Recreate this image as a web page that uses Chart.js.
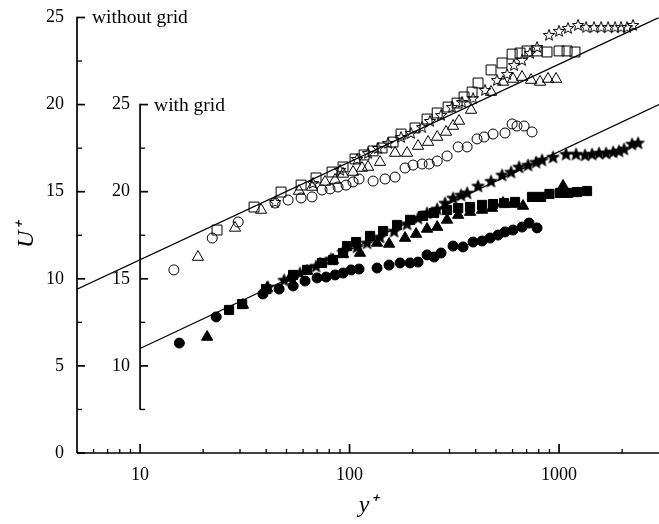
<!DOCTYPE html>
<html>
<head>
<meta charset="utf-8">
<title>U+ vs y+</title>
<script src="https://cdn.jsdelivr.net/npm/chart.js@4.4.1/dist/chart.umd.min.js"></script>
<style>
  html, body { margin: 0; padding: 0; background: #fff; overflow: hidden; }
  #wrap { position: relative; width: 659px; height: 524px; }
  #profileChart { display: block; }
</style>
</head>
<body>
<div id="wrap"><canvas id="profileChart"></canvas></div>
<script>
// ---- tick values ----
const X_MAJOR = [10, 100, 1000];
const X_MINOR = [6, 7, 8, 9, 20, 30, 40, 50, 60, 70, 80, 90, 200, 300, 400, 500, 600, 700, 800, 900, 2000];
const Y_MAJOR = [0, 5, 10, 15, 20, 25];
const Y_MINOR = [2.5, 7.5, 12.5, 17.5, 22.5];
const Y2_MAJOR = [10, 15, 20, 25];
const Y2_MINOR = [7.5, 12.5, 17.5, 22.5];

// ---- without grid (left axis) ----
const NG_CIRCLE_X = [14.5, 22.1, 29.4, 44.1, 50.9, 58.7, 66.2, 73.9, 80.7, 88.1, 96.2, 103.9, 111, 129.5, 147.7, 164.9, 184, 201, 222, 240, 262, 292, 330, 364, 406, 439, 484, 552, 597, 630, 681, 743];
const NG_CIRCLE_Y = [10.51, 12.34, 13.26, 14.35, 14.52, 14.64, 14.70, 15.10, 15.16, 15.27, 15.38, 15.56, 15.73, 15.61, 15.73, 15.84, 16.36, 16.53, 16.59, 16.59, 16.76, 17.05, 17.57, 17.57, 18.03, 18.14, 18.31, 18.37, 18.89, 18.77, 18.77, 18.43];

const NG_TRI_X = [18.9, 28.4, 37.8, 57.4, 66.2, 76.4, 85.3, 93.1, 103.9, 114.7, 122.6, 139.8, 164.9, 188.1, 212.3, 237, 262, 288.8, 311.9, 333.2, 380.2, 473.6, 540.3, 603.1, 665.9, 735.1, 811.5, 886.3, 967.6];
const NG_TRI_Y = [11.25, 12.92, 13.95, 15.04, 15.27, 15.56, 15.67, 16.02, 16.13, 16.36, 16.42, 16.70, 17.22, 17.22, 17.62, 17.85, 18.14, 18.43, 18.77, 19.06, 19.69, 20.72, 21.30, 21.47, 21.58, 21.41, 21.30, 21.47, 21.47];

const NG_SQ_X = [23.3, 35.0, 47.1, 58.7, 69.2, 82.5, 93.1, 106.2, 117.3, 129.5, 142.9, 161.3, 176.1, 205.4, 234.4, 262, 295.3, 326.1, 352.1, 384.4, 410.6, 473.6, 534.4, 597, 651.4, 703.6, 785.2, 876.3, 1000, 1092, 1192];
const NG_SQ_Y = [12.80, 14.12, 14.98, 15.38, 15.79, 16.13, 16.42, 16.88, 17.11, 17.34, 17.51, 17.85, 18.31, 18.66, 19.17, 19.52, 19.86, 20.09, 20.44, 20.72, 21.24, 21.99, 22.39, 22.90, 22.96, 23.08, 23.08, 23.02, 23.08, 23.08, 23.02];

const NG_STAR_X = [44.1, 66.9, 90.1, 108.6, 122.6, 136.8, 152.7, 176.1, 196.6, 222, 242.2, 273.4, 308.5, 344.4, 388.6, 443.6, 505.9, 564.8, 609.9, 665.9, 727.1, 785.2, 895.8, 1000, 1104, 1232, 1346, 1469, 1587, 1714, 1851, 1977, 2111, 2255];
const NG_STAR_Y = [14.41, 15.50, 16.25, 16.88, 17.22, 17.51, 17.80, 18.14, 18.37, 18.71, 19.06, 19.40, 19.86, 20.15, 20.37, 20.84, 21.41, 21.76, 22.27, 22.56, 22.96, 23.31, 24.00, 24.23, 24.40, 24.57, 24.45, 24.45, 24.45, 24.45, 24.45, 24.45, 24.45, 24.57];

const NG_LINE_X = [5, 3000];
const NG_LINE_Y = [9.4, 25.0];

// ---- with grid (inner axis) ----
const WG_CIRCLE_X = [15.4, 23.1, 38.6, 46.1, 53.8, 61.3, 70.0, 77.3, 85.3, 93.1, 101.7, 111, 135.3, 154.4, 174.2, 194.5, 212.3, 234.4, 253.2, 273.4, 311.9, 348.2, 388.6, 429.1, 468.4, 511.6, 552, 603.1, 665.9, 719.2, 785.2];
const WG_CIRCLE_Y = [11.31, 12.81, 14.13, 14.41, 14.59, 14.87, 15.05, 15.10, 15.22, 15.33, 15.51, 15.56, 15.62, 15.79, 15.91, 15.91, 15.96, 16.37, 16.25, 16.48, 16.88, 16.83, 17.11, 17.17, 17.34, 17.51, 17.69, 17.80, 17.97, 18.20, 17.92];

const WG_TRI_X = [20.9, 31.0, 40.4, 52.0, 62.7, 72.3, 83.4, 93.1, 112.2, 135.3, 154.4, 184, 207.7, 234.4, 262, 292, 330, 376, 429, 478.8, 540.3, 597, 673.2, 1045];
const WG_TRI_Y = [11.66, 13.50, 14.47, 15.05, 15.45, 15.85, 16.08, 16.42, 16.48, 17.06, 17.00, 17.34, 17.57, 17.86, 17.97, 18.38, 18.66, 18.83, 18.95, 19.06, 19.35, 19.29, 19.18, 20.33];

const WG_SQ_X = [26.6, 30.7, 40.0, 53.8, 62.7, 73.9, 83.4, 93.1, 97.3, 107.4, 125.3, 144.5, 168.6, 194.5, 224.3, 253.2, 292, 330, 376, 429, 484, 546.3, 616.6, 743, 820.5, 900, 1011, 1104, 1218, 1360];
const WG_SQ_Y = [13.21, 13.55, 14.41, 15.22, 15.51, 15.91, 16.08, 16.48, 16.88, 17.11, 17.46, 17.74, 18.09, 18.38, 18.61, 18.78, 18.95, 19.06, 19.12, 19.24, 19.29, 19.35, 19.41, 19.70, 19.70, 19.87, 19.93, 19.93, 19.98, 20.04];

const WG_STAR_X = [40.8, 48.7, 58.0, 69.2, 81.6, 93.1, 108.6, 121.2, 139.8, 163.1, 188.1, 212.3, 234.4, 262, 285.6, 311.9, 340.6, 364, 410.6, 473.6, 534.4, 590, 644.2, 711.2, 776.6, 829.6, 936.3, 1080, 1205, 1331, 1437, 1552, 1676, 1811, 1934, 2043, 2231, 2383];
const WG_STAR_Y = [14.53, 14.93, 15.33, 15.73, 16.14, 16.54, 16.83, 17.06, 17.40, 17.74, 18.15, 18.49, 18.78, 19.01, 19.35, 19.64, 19.81, 19.93, 20.33, 20.61, 20.96, 21.13, 21.42, 21.53, 21.70, 21.82, 21.99, 22.16, 22.16, 22.11, 22.16, 22.22, 22.22, 22.28, 22.34, 22.45, 22.74, 22.80];

const WG_LINE_X = [10, 3000];
const WG_LINE_Y = [11.0, 25.0];

const SERIF = "'Liberation Serif', 'Times New Roman', serif";

function pts(xs, ys) {
    return xs.map((x, i) => ({ x: x, y: ys[i] }));
}

// five-pointed star marker drawn on a small canvas
function makeStar(filled, size) {
    const c = document.createElement('canvas');
    c.width = size; c.height = size;
    const g = c.getContext('2d');
    const cx = size / 2, cy = size / 2 + 0.5;
    const ro = size / 2 - 1, ri = ro * 0.42;
    g.beginPath();
    for (let i = 0; i < 10; i++) {
        const r = i % 2 === 0 ? ro : ri;
        const a = -Math.PI / 2 + i * Math.PI / 5;
        const px = cx + r * Math.cos(a), py = cy + r * Math.sin(a);
        if (i === 0) g.moveTo(px, py); else g.lineTo(px, py);
    }
    g.closePath();
    g.lineWidth = 1;
    g.strokeStyle = '#000';
    if (filled) { g.fillStyle = '#000'; g.fill(); }
    g.stroke();
    return c;
}

const openStar = makeStar(false, 14);
const fullStar = makeStar(true, 15);

function markerSet(data, style, filled, radius, axis) {
    return {
        data: data,
        yAxisID: axis,
        pointStyle: style,
        pointRadius: radius,
        pointBorderWidth: 1,
        pointBorderColor: '#000',
        pointBackgroundColor: filled ? '#000' : 'rgba(0,0,0,0)',
        showLine: false
    };
}

function refLine(data, axis) {
    return {
        data: data,
        yAxisID: axis,
        showLine: true,
        borderColor: '#000',
        borderWidth: 1.3,
        pointRadius: 0,
        fill: false
    };
}

// keep the plot area fixed: no automatic label padding
function noPad(scale) {
    scale.paddingTop = 0;
    scale.paddingBottom = 0;
    scale.paddingLeft = 0;
    scale.paddingRight = 0;
}

// axis lines, inward tick marks, inner axis labels and captions
const axesPlugin = {
    id: 'axesPlugin',
    afterDraw(chart) {
        const { ctx, scales } = chart;
        const xs = scales.x, ys = scales.y, ys2 = scales.y2;
        ctx.save();
        ctx.strokeStyle = '#000';
        ctx.lineWidth = 1.7;
        ctx.lineCap = 'butt';

        const seg = (x1, y1, x2, y2) => {
            ctx.beginPath(); ctx.moveTo(x1, y1); ctx.lineTo(x2, y2); ctx.stroke();
        };

        // x axis
        const yb = ys.getPixelForValue(0);
        seg(xs.left, yb, xs.right, yb);
        X_MAJOR.forEach(v => { const p = xs.getPixelForValue(v); seg(p, yb, p, yb - 9); });
        ctx.lineWidth = 1.3;
        X_MINOR.forEach(v => { const p = xs.getPixelForValue(v); seg(p, yb, p, yb - 4); });

        // outer y axis
        ctx.lineWidth = 1.7;
        const xl = xs.left;
        seg(xl, yb, xl, ys.getPixelForValue(25) - 0.8);
        Y_MAJOR.forEach(v => { const p = ys.getPixelForValue(v); seg(xl, p, xl + 8, p); });
        ctx.lineWidth = 1.3;
        Y_MINOR.forEach(v => { const p = ys.getPixelForValue(v); seg(xl, p, xl + 5, p); });

        // inner y axis (with grid)
        ctx.lineWidth = 1.7;
        const xi = xs.getPixelForValue(10);
        seg(xi, ys2.getPixelForValue(7.5), xi, ys2.getPixelForValue(25) - 0.8);
        Y2_MAJOR.forEach(v => { const p = ys2.getPixelForValue(v); seg(xi, p, xi + 8, p); });
        ctx.lineWidth = 1.3;
        Y2_MINOR.forEach(v => { const p = ys2.getPixelForValue(v); seg(xi, p, xi + 5, p); });

        ctx.fillStyle = '#000';
        ctx.textBaseline = 'middle';

        // inner axis tick labels
        ctx.font = '18px ' + SERIF;
        ctx.textAlign = 'right';
        Y2_MAJOR.forEach(v => { ctx.fillText(String(v), xi - 10, ys2.getPixelForValue(v)); });

        // captions
        ctx.font = '19.5px ' + SERIF;
        ctx.textAlign = 'left';
        ctx.fillText('without grid', xl + 15, ys.getPixelForValue(25));
        ctx.fillText('with grid', xi + 14, ys2.getPixelForValue(25) + 1);
        ctx.restore();
    }
};

const ctx = document.getElementById('profileChart').getContext('2d');

new Chart(ctx, {
    type: 'scatter',
    data: {
        datasets: [
            refLine(pts(NG_LINE_X, NG_LINE_Y), 'y'),
            refLine(pts(WG_LINE_X, WG_LINE_Y), 'y2'),
            markerSet(pts(NG_CIRCLE_X, NG_CIRCLE_Y), 'circle', false, 5, 'y'),
            markerSet(pts(NG_TRI_X, NG_TRI_Y), 'triangle', false, 6.5, 'y'),
            markerSet(pts(NG_SQ_X, NG_SQ_Y), 'rect', false, 7, 'y'),
            markerSet(pts(NG_STAR_X, NG_STAR_Y), openStar, false, 7, 'y'),
            markerSet(pts(WG_CIRCLE_X, WG_CIRCLE_Y), 'circle', true, 5, 'y2'),
            markerSet(pts(WG_TRI_X, WG_TRI_Y), 'triangle', true, 6.5, 'y2'),
            markerSet(pts(WG_SQ_X, WG_SQ_Y), 'rect', true, 6.5, 'y2'),
            markerSet(pts(WG_STAR_X, WG_STAR_Y), fullStar, true, 7, 'y2')
        ]
    },
    options: {
        responsive: true,
        maintainAspectRatio: false,
        animation: false,
        events: [],
        layout: { autoPadding: false, padding: { top: 17.5, right: 0, bottom: 0, left: 0 } },
        plugins: {
            legend: { display: false },
            tooltip: { enabled: false }
        },
        scales: {
            x: {
                type: 'logarithmic',
                position: 'bottom',
                min: 5,
                max: 3000,
                grid: { display: false, drawTicks: false },
                border: { display: false },
                afterBuildTicks: (scale) => { scale.ticks = X_MAJOR.map(v => ({ value: v })); },
                afterFit: (scale) => { scale.height = 71; noPad(scale); },
                ticks: {
                    color: '#000',
                    padding: 11,
                    maxRotation: 0,
                    autoSkip: false,
                    font: { family: SERIF, size: 18 },
                    callback: (v) => String(v)
                },
                title: {
                    display: true,
                    text: 'y\u207A',
                    color: '#000',
                    padding: { top: 0, bottom: 4 },
                    font: { family: SERIF, size: 24, style: 'italic' }
                }
            },
            y: {
                type: 'linear',
                position: 'left',
                min: 0,
                max: 25,
                grid: { display: false, drawTicks: false },
                border: { display: false },
                afterBuildTicks: (scale) => { scale.ticks = Y_MAJOR.map(v => ({ value: v })); },
                afterFit: (scale) => { scale.width = 77; noPad(scale); },
                ticks: {
                    color: '#000',
                    padding: 13,
                    font: { family: SERIF, size: 18 }
                },
                title: {
                    display: true,
                    text: 'U\u207A',
                    color: '#000',
                    padding: { top: 12, bottom: 0 },
                    font: { family: SERIF, size: 24, style: 'italic' }
                }
            },
            y2: {
                type: 'linear',
                position: { x: 10 },
                min: 5,
                max: 30,
                grid: { display: false, drawTicks: false },
                border: { display: false },
                afterBuildTicks: (scale) => { scale.ticks = Y2_MAJOR.map(v => ({ value: v })); },
                afterFit: (scale) => { scale.width = 0; noPad(scale); },
                ticks: { display: false }
            }
        }
    },
    plugins: [axesPlugin]
});
</script>
</body>
</html>
